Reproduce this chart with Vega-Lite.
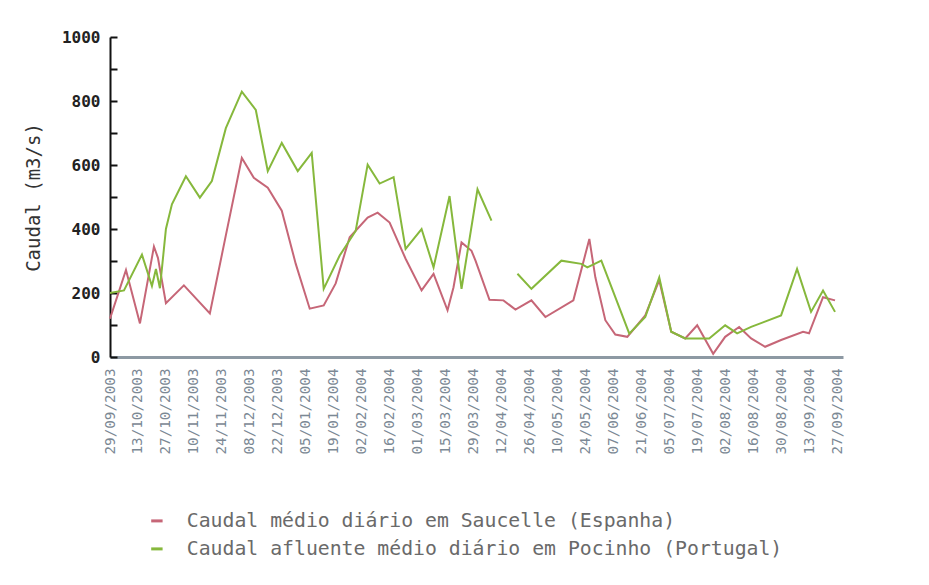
{
  "$schema": "https://vega.github.io/schema/vega-lite/v6.json",
  "width": 733,
  "height": 320,
  "autosize": {"type": "none"},
  "padding": {"left": 110, "top": 37, "right": 86, "bottom": 228},
  "background": "white",
  "config": {"view": {"stroke": null}, "font": "DejaVu Sans Mono"},
  "datasets": {
    "caudais": [
      {"date": "2003-09-29", "value": 120, "series": "Caudal médio diário em Saucelle (Espanha)", "segment": 1},
      {"date": "2003-10-07", "value": 272, "series": "Caudal médio diário em Saucelle (Espanha)", "segment": 1},
      {"date": "2003-10-14", "value": 105, "series": "Caudal médio diário em Saucelle (Espanha)", "segment": 1},
      {"date": "2003-10-21", "value": 345, "series": "Caudal médio diário em Saucelle (Espanha)", "segment": 1},
      {"date": "2003-10-23", "value": 310, "series": "Caudal médio diário em Saucelle (Espanha)", "segment": 1},
      {"date": "2003-10-27", "value": 168, "series": "Caudal médio diário em Saucelle (Espanha)", "segment": 1},
      {"date": "2003-11-05", "value": 224, "series": "Caudal médio diário em Saucelle (Espanha)", "segment": 1},
      {"date": "2003-11-18", "value": 136, "series": "Caudal médio diário em Saucelle (Espanha)", "segment": 1},
      {"date": "2003-11-26", "value": 380, "series": "Caudal médio diário em Saucelle (Espanha)", "segment": 1},
      {"date": "2003-12-04", "value": 622, "series": "Caudal médio diário em Saucelle (Espanha)", "segment": 1},
      {"date": "2003-12-10", "value": 560, "series": "Caudal médio diário em Saucelle (Espanha)", "segment": 1},
      {"date": "2003-12-17", "value": 529, "series": "Caudal médio diário em Saucelle (Espanha)", "segment": 1},
      {"date": "2003-12-24", "value": 457, "series": "Caudal médio diário em Saucelle (Espanha)", "segment": 1},
      {"date": "2003-12-31", "value": 291, "series": "Caudal médio diário em Saucelle (Espanha)", "segment": 1},
      {"date": "2004-01-07", "value": 151, "series": "Caudal médio diário em Saucelle (Espanha)", "segment": 1},
      {"date": "2004-01-14", "value": 161, "series": "Caudal médio diário em Saucelle (Espanha)", "segment": 1},
      {"date": "2004-01-20", "value": 230, "series": "Caudal médio diário em Saucelle (Espanha)", "segment": 1},
      {"date": "2004-01-27", "value": 374, "series": "Caudal médio diário em Saucelle (Espanha)", "segment": 1},
      {"date": "2004-02-05", "value": 436, "series": "Caudal médio diário em Saucelle (Espanha)", "segment": 1},
      {"date": "2004-02-10", "value": 451, "series": "Caudal médio diário em Saucelle (Espanha)", "segment": 1},
      {"date": "2004-02-16", "value": 420, "series": "Caudal médio diário em Saucelle (Espanha)", "segment": 1},
      {"date": "2004-02-24", "value": 307, "series": "Caudal médio diário em Saucelle (Espanha)", "segment": 1},
      {"date": "2004-03-03", "value": 208, "series": "Caudal médio diário em Saucelle (Espanha)", "segment": 1},
      {"date": "2004-03-09", "value": 260, "series": "Caudal médio diário em Saucelle (Espanha)", "segment": 1},
      {"date": "2004-03-16", "value": 146, "series": "Caudal médio diário em Saucelle (Espanha)", "segment": 1},
      {"date": "2004-03-19", "value": 218, "series": "Caudal médio diário em Saucelle (Espanha)", "segment": 1},
      {"date": "2004-03-23", "value": 358, "series": "Caudal médio diário em Saucelle (Espanha)", "segment": 1},
      {"date": "2004-03-28", "value": 332, "series": "Caudal médio diário em Saucelle (Espanha)", "segment": 1},
      {"date": "2004-03-30", "value": 301, "series": "Caudal médio diário em Saucelle (Espanha)", "segment": 1},
      {"date": "2004-04-06", "value": 179, "series": "Caudal médio diário em Saucelle (Espanha)", "segment": 1},
      {"date": "2004-04-13", "value": 177, "series": "Caudal médio diário em Saucelle (Espanha)", "segment": 1},
      {"date": "2004-04-19", "value": 148, "series": "Caudal médio diário em Saucelle (Espanha)", "segment": 1},
      {"date": "2004-04-27", "value": 177, "series": "Caudal médio diário em Saucelle (Espanha)", "segment": 1},
      {"date": "2004-05-04", "value": 125, "series": "Caudal médio diário em Saucelle (Espanha)", "segment": 1},
      {"date": "2004-05-18", "value": 177, "series": "Caudal médio diário em Saucelle (Espanha)", "segment": 1},
      {"date": "2004-05-26", "value": 369, "series": "Caudal médio diário em Saucelle (Espanha)", "segment": 1},
      {"date": "2004-05-29", "value": 249, "series": "Caudal médio diário em Saucelle (Espanha)", "segment": 1},
      {"date": "2004-06-03", "value": 115, "series": "Caudal médio diário em Saucelle (Espanha)", "segment": 1},
      {"date": "2004-06-08", "value": 70, "series": "Caudal médio diário em Saucelle (Espanha)", "segment": 1},
      {"date": "2004-06-14", "value": 63, "series": "Caudal médio diário em Saucelle (Espanha)", "segment": 1},
      {"date": "2004-06-23", "value": 130, "series": "Caudal médio diário em Saucelle (Espanha)", "segment": 1},
      {"date": "2004-06-30", "value": 240, "series": "Caudal médio diário em Saucelle (Espanha)", "segment": 1},
      {"date": "2004-07-06", "value": 79, "series": "Caudal médio diário em Saucelle (Espanha)", "segment": 1},
      {"date": "2004-07-13", "value": 58, "series": "Caudal médio diário em Saucelle (Espanha)", "segment": 1},
      {"date": "2004-07-19", "value": 99, "series": "Caudal médio diário em Saucelle (Espanha)", "segment": 1},
      {"date": "2004-07-27", "value": 10, "series": "Caudal médio diário em Saucelle (Espanha)", "segment": 1},
      {"date": "2004-08-02", "value": 63, "series": "Caudal médio diário em Saucelle (Espanha)", "segment": 1},
      {"date": "2004-08-09", "value": 94, "series": "Caudal médio diário em Saucelle (Espanha)", "segment": 1},
      {"date": "2004-08-15", "value": 58, "series": "Caudal médio diário em Saucelle (Espanha)", "segment": 1},
      {"date": "2004-08-22", "value": 32, "series": "Caudal médio diário em Saucelle (Espanha)", "segment": 1},
      {"date": "2004-08-30", "value": 53, "series": "Caudal médio diário em Saucelle (Espanha)", "segment": 1},
      {"date": "2004-09-10", "value": 79, "series": "Caudal médio diário em Saucelle (Espanha)", "segment": 1},
      {"date": "2004-09-13", "value": 74, "series": "Caudal médio diário em Saucelle (Espanha)", "segment": 1},
      {"date": "2004-09-20", "value": 187, "series": "Caudal médio diário em Saucelle (Espanha)", "segment": 1},
      {"date": "2004-09-26", "value": 177, "series": "Caudal médio diário em Saucelle (Espanha)", "segment": 1},

      {"date": "2003-09-29", "value": 200, "series": "Caudal afluente médio diário em Pocinho (Portugal)", "segment": 1},
      {"date": "2003-10-06", "value": 208, "series": "Caudal afluente médio diário em Pocinho (Portugal)", "segment": 1},
      {"date": "2003-10-15", "value": 320, "series": "Caudal afluente médio diário em Pocinho (Portugal)", "segment": 1},
      {"date": "2003-10-20", "value": 222, "series": "Caudal afluente médio diário em Pocinho (Portugal)", "segment": 1},
      {"date": "2003-10-22", "value": 275, "series": "Caudal afluente médio diário em Pocinho (Portugal)", "segment": 1},
      {"date": "2003-10-24", "value": 215, "series": "Caudal afluente médio diário em Pocinho (Portugal)", "segment": 1},
      {"date": "2003-10-27", "value": 400, "series": "Caudal afluente médio diário em Pocinho (Portugal)", "segment": 1},
      {"date": "2003-10-30", "value": 477, "series": "Caudal afluente médio diário em Pocinho (Portugal)", "segment": 1},
      {"date": "2003-11-06", "value": 565, "series": "Caudal afluente médio diário em Pocinho (Portugal)", "segment": 1},
      {"date": "2003-11-13", "value": 498, "series": "Caudal afluente médio diário em Pocinho (Portugal)", "segment": 1},
      {"date": "2003-11-19", "value": 550, "series": "Caudal afluente médio diário em Pocinho (Portugal)", "segment": 1},
      {"date": "2003-11-26", "value": 715, "series": "Caudal afluente médio diário em Pocinho (Portugal)", "segment": 1},
      {"date": "2003-12-04", "value": 829, "series": "Caudal afluente médio diário em Pocinho (Portugal)", "segment": 1},
      {"date": "2003-12-11", "value": 772, "series": "Caudal afluente médio diário em Pocinho (Portugal)", "segment": 1},
      {"date": "2003-12-17", "value": 581, "series": "Caudal afluente médio diário em Pocinho (Portugal)", "segment": 1},
      {"date": "2003-12-24", "value": 669, "series": "Caudal afluente médio diário em Pocinho (Portugal)", "segment": 1},
      {"date": "2004-01-01", "value": 581, "series": "Caudal afluente médio diário em Pocinho (Portugal)", "segment": 1},
      {"date": "2004-01-08", "value": 638, "series": "Caudal afluente médio diário em Pocinho (Portugal)", "segment": 1},
      {"date": "2004-01-14", "value": 213, "series": "Caudal afluente médio diário em Pocinho (Portugal)", "segment": 1},
      {"date": "2004-01-22", "value": 317, "series": "Caudal afluente médio diário em Pocinho (Portugal)", "segment": 1},
      {"date": "2004-01-30", "value": 394, "series": "Caudal afluente médio diário em Pocinho (Portugal)", "segment": 1},
      {"date": "2004-02-05", "value": 601, "series": "Caudal afluente médio diário em Pocinho (Portugal)", "segment": 1},
      {"date": "2004-02-11", "value": 542, "series": "Caudal afluente médio diário em Pocinho (Portugal)", "segment": 1},
      {"date": "2004-02-18", "value": 562, "series": "Caudal afluente médio diário em Pocinho (Portugal)", "segment": 1},
      {"date": "2004-02-24", "value": 338, "series": "Caudal afluente médio diário em Pocinho (Portugal)", "segment": 1},
      {"date": "2004-03-03", "value": 400, "series": "Caudal afluente médio diário em Pocinho (Portugal)", "segment": 1},
      {"date": "2004-03-09", "value": 280, "series": "Caudal afluente médio diário em Pocinho (Portugal)", "segment": 1},
      {"date": "2004-03-17", "value": 503, "series": "Caudal afluente médio diário em Pocinho (Portugal)", "segment": 1},
      {"date": "2004-03-23", "value": 213, "series": "Caudal afluente médio diário em Pocinho (Portugal)", "segment": 1},
      {"date": "2004-03-31", "value": 524, "series": "Caudal afluente médio diário em Pocinho (Portugal)", "segment": 1},
      {"date": "2004-04-07", "value": 426, "series": "Caudal afluente médio diário em Pocinho (Portugal)", "segment": 1},
      {"date": "2004-04-20", "value": 260, "series": "Caudal afluente médio diário em Pocinho (Portugal)", "segment": 2},
      {"date": "2004-04-27", "value": 213, "series": "Caudal afluente médio diário em Pocinho (Portugal)", "segment": 2},
      {"date": "2004-05-12", "value": 301, "series": "Caudal afluente médio diário em Pocinho (Portugal)", "segment": 2},
      {"date": "2004-05-22", "value": 291, "series": "Caudal afluente médio diário em Pocinho (Portugal)", "segment": 2},
      {"date": "2004-05-25", "value": 280, "series": "Caudal afluente médio diário em Pocinho (Portugal)", "segment": 2},
      {"date": "2004-06-01", "value": 301, "series": "Caudal afluente médio diário em Pocinho (Portugal)", "segment": 2},
      {"date": "2004-06-15", "value": 73, "series": "Caudal afluente médio diário em Pocinho (Portugal)", "segment": 2},
      {"date": "2004-06-23", "value": 125, "series": "Caudal afluente médio diário em Pocinho (Portugal)", "segment": 2},
      {"date": "2004-06-30", "value": 249, "series": "Caudal afluente médio diário em Pocinho (Portugal)", "segment": 2},
      {"date": "2004-07-06", "value": 79, "series": "Caudal afluente médio diário em Pocinho (Portugal)", "segment": 2},
      {"date": "2004-07-13", "value": 58, "series": "Caudal afluente médio diário em Pocinho (Portugal)", "segment": 2},
      {"date": "2004-07-25", "value": 58, "series": "Caudal afluente médio diário em Pocinho (Portugal)", "segment": 2},
      {"date": "2004-08-02", "value": 99, "series": "Caudal afluente médio diário em Pocinho (Portugal)", "segment": 2},
      {"date": "2004-08-08", "value": 74, "series": "Caudal afluente médio diário em Pocinho (Portugal)", "segment": 2},
      {"date": "2004-08-15", "value": 94, "series": "Caudal afluente médio diário em Pocinho (Portugal)", "segment": 2},
      {"date": "2004-08-30", "value": 130, "series": "Caudal afluente médio diário em Pocinho (Portugal)", "segment": 2},
      {"date": "2004-09-07", "value": 275, "series": "Caudal afluente médio diário em Pocinho (Portugal)", "segment": 2},
      {"date": "2004-09-14", "value": 141, "series": "Caudal afluente médio diário em Pocinho (Portugal)", "segment": 2},
      {"date": "2004-09-20", "value": 208, "series": "Caudal afluente médio diário em Pocinho (Portugal)", "segment": 2},
      {"date": "2004-09-26", "value": 141, "series": "Caudal afluente médio diário em Pocinho (Portugal)", "segment": 2}
    ]
  },
  "data": {"name": "caudais"},
  "mark": {"type": "line", "strokeWidth": 2, "interpolate": "linear"},
  "encoding": {
    "x": {
      "field": "date",
      "type": "temporal",
      "scale": {
        "type": "utc",
        "domain": [
          {"year": 2003, "month": 9, "date": 29, "utc": true},
          {"year": 2004, "month": 9, "date": 30, "utc": true}
        ]
      },
      "axis": {
        "title": null,
        "grid": false,
        "ticks": false,
        "format": "%d/%m/%Y",
        "labelAngle": -90,
        "labelFont": "DejaVu Sans Mono",
        "labelFontSize": 14.3,
        "labelColor": "#7b8894",
        "labelPadding": 11,
        "labelOverlap": false,
        "domainColor": "#8d99a3",
        "domainWidth": 3,
        "values": [
          {"year": 2003, "month": 9, "date": 29, "utc": true},
          {"year": 2003, "month": 10, "date": 13, "utc": true},
          {"year": 2003, "month": 10, "date": 27, "utc": true},
          {"year": 2003, "month": 11, "date": 10, "utc": true},
          {"year": 2003, "month": 11, "date": 24, "utc": true},
          {"year": 2003, "month": 12, "date": 8, "utc": true},
          {"year": 2003, "month": 12, "date": 22, "utc": true},
          {"year": 2004, "month": 1, "date": 5, "utc": true},
          {"year": 2004, "month": 1, "date": 19, "utc": true},
          {"year": 2004, "month": 2, "date": 2, "utc": true},
          {"year": 2004, "month": 2, "date": 16, "utc": true},
          {"year": 2004, "month": 3, "date": 1, "utc": true},
          {"year": 2004, "month": 3, "date": 15, "utc": true},
          {"year": 2004, "month": 3, "date": 29, "utc": true},
          {"year": 2004, "month": 4, "date": 12, "utc": true},
          {"year": 2004, "month": 4, "date": 26, "utc": true},
          {"year": 2004, "month": 5, "date": 10, "utc": true},
          {"year": 2004, "month": 5, "date": 24, "utc": true},
          {"year": 2004, "month": 6, "date": 7, "utc": true},
          {"year": 2004, "month": 6, "date": 21, "utc": true},
          {"year": 2004, "month": 7, "date": 5, "utc": true},
          {"year": 2004, "month": 7, "date": 19, "utc": true},
          {"year": 2004, "month": 8, "date": 2, "utc": true},
          {"year": 2004, "month": 8, "date": 16, "utc": true},
          {"year": 2004, "month": 8, "date": 30, "utc": true},
          {"year": 2004, "month": 9, "date": 13, "utc": true},
          {"year": 2004, "month": 9, "date": 27, "utc": true}
        ]
      }
    },
    "y": {
      "field": "value",
      "type": "quantitative",
      "scale": {"domain": [0, 1000], "nice": false},
      "axis": {
        "title": "Caudal (m3/s)",
        "titleFont": "DejaVu Sans Mono",
        "titleFontSize": 19,
        "titleFontWeight": "normal",
        "titleColor": "#333333",
        "titlePadding": 18,
        "grid": false,
        "values": [0, 100, 200, 300, 400, 500, 600, 700, 800, 900, 1000],
        "format": "d",
        "labelExpr": "datum.value % 200 === 0 ? datum.label : ''",
        "labelFont": "DejaVu Sans Mono",
        "labelFontSize": 16,
        "labelFontWeight": "bold",
        "labelColor": "#222222",
        "labelPadding": 17,
        "tickSize": -7,
        "tickWidth": 2,
        "tickColor": "#111111",
        "domainColor": "#111111",
        "domainWidth": 2
      }
    },
    "color": {
      "field": "series",
      "type": "nominal",
      "scale": {
        "domain": [
          "Caudal médio diário em Saucelle (Espanha)",
          "Caudal afluente médio diário em Pocinho (Portugal)"
        ],
        "range": ["#c66677", "#86b83c"]
      },
      "legend": {
        "title": null,
        "orient": "none",
        "legendX": 37,
        "legendY": 474,
        "symbolType": "stroke",
        "symbolStrokeWidth": 3,
        "symbolSize": 130,
        "labelFont": "DejaVu Sans Mono",
        "labelFontSize": 19.8,
        "labelColor": "#6a6a6a",
        "labelOffset": 20,
        "labelLimit": 0,
        "rowPadding": 7
      }
    },
    "detail": {"field": "segment", "type": "nominal"}
  }
}
